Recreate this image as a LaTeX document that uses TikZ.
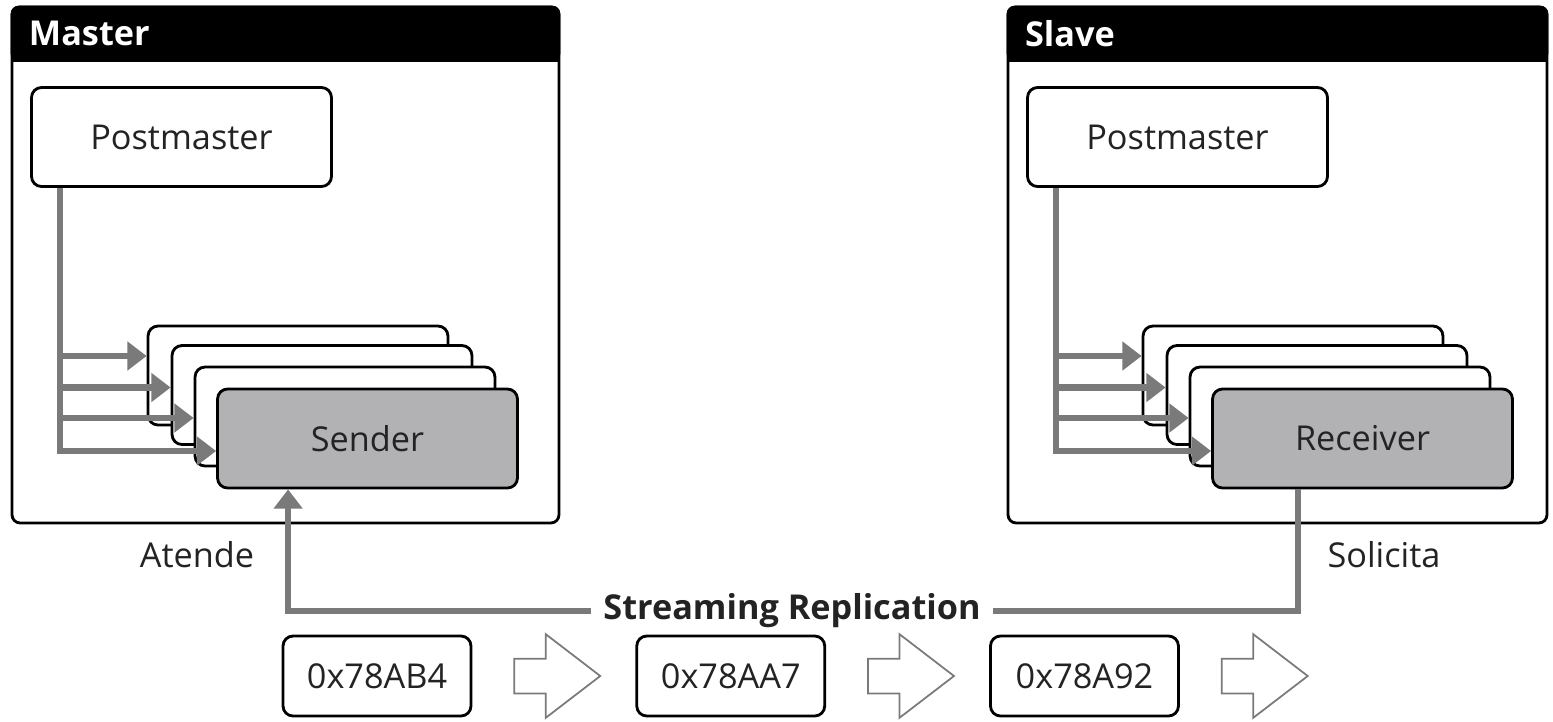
\documentclass[tikz,border=0pt]{standalone}
\usepackage{fontspec}
\setmainfont{Open Sans}
\usepackage{tikz}
\usetikzlibrary{shapes.arrows, arrows.meta, positioning}
\definecolor{wiregray}{RGB}{122,122,122}
\definecolor{procgray}{RGB}{178,178,181}
\definecolor{textgray}{RGB}{35,35,35}
\newcommand{\diagfont}{\fontsize{19.5}{23}\selectfont}
\tikzstyle{server} = [rectangle, rounded corners=0.16cm, minimum height=10.32cm, draw=black, fill=white, line width=1.6pt, inner sep=0pt]
\tikzstyle{header} = [anchor=west, text=white, font=\diagfont\bfseries, inner sep=0pt]
\tikzstyle{process} = [rectangle, rounded corners=0.2cm, minimum width=6cm, minimum height=1.98cm, text centered, draw=black, fill=white, line width=1.6pt, font=\diagfont, text=textgray]
\tikzstyle{active} = [process, fill=procgray]
\tikzstyle{lsn} = [rectangle, rounded corners=0.2cm, minimum width=3.76cm, minimum height=1.6cm, text centered, draw=black, fill=white, line width=1.6pt, font=\diagfont, text=textgray]
\tikzstyle{flow} = [single arrow, draw=wiregray, line width=1pt, fill=white, minimum height=1.72cm, inner xsep=0pt, inner ysep=0.33cm, single arrow head extend=0.49cm, single arrow tip angle=75]
\tikzstyle{sidenote} = [font=\diagfont, text=textgray]
\tikzstyle{wire} = [draw=wiregray, line width=3.6pt]
\tikzstyle{arrow} = [wire, -{Triangle[length=11pt,width=16pt]}]

\begin{document}
\begin{tikzpicture}[x=0.02cm, y=-0.02cm]
        \useasboundingbox (0,0) rectangle (1553,721);

        \node (master) [server, minimum width=10.94cm] at (285.5,265) {};
        \node (slave) [server, minimum width=10.78cm] at (1277.5,265) {};
        \fill [black, rounded corners=0.16cm] (master.north west) rectangle ([yshift=-1.12cm]master.north east);
        \fill [black] ([yshift=-0.5cm]master.north west) rectangle ([yshift=-1.12cm]master.north east);
        \fill [black, rounded corners=0.16cm] (slave.north west) rectangle ([yshift=-1.12cm]slave.north east);
        \fill [black] ([yshift=-0.5cm]slave.north west) rectangle ([yshift=-1.12cm]slave.north east);
        \node (mastertitle) [header] at ([xshift=0.36cm, yshift=-0.56cm]master.north west) {Master};
        \node (slavetitle) [header] at ([xshift=0.36cm, yshift=-0.56cm]slave.north west) {Slave};

        \node (mpm) [process] at (181.5,137) {Postmaster};
        \node (msend1) [process] at (298,375.5) {};
        \node (msend2) [process] at (322,395) {};
        \node (msend3) [process] at (345,416.5) {};
        \node (sender) [active] at (367.5,438.5) {Sender};

        \node (spm) [process] at (1177.5,137) {Postmaster};
        \node (srecv1) [process] at (1293,375.5) {};
        \node (srecv2) [process] at (1317,395) {};
        \node (srecv3) [process] at (1340,416.5) {};
        \node (receiver) [active] at (1362.5,438.5) {Receiver};

        \node (stream) [font=\diagfont\bfseries, text=textgray, inner xsep=0.24cm] at (792,611) {Streaming Replication};
        \node (atende) [sidenote] at (197,555) {Atende};
        \node (solicita) [sidenote] at (1384,555) {Solicita};

        \node (lsn1) [lsn] at (377,676) {0x78AB4};
        \node (lsn2) [lsn, right=3.26cm of lsn1] {0x78AA7};
        \node (lsn3) [lsn, right=3.26cm of lsn2] {0x78A92};
        \node (flow1) [flow, right=0.82cm of lsn1] {};
        \node (flow2) [flow, right=0.82cm of lsn2] {};
        \node (flow3) [flow, right=0.82cm of lsn3] {};

        \draw [arrow] ([xshift=0.6cm]mpm.south west) |- ([yshift=0.39cm]msend1.west);
        \draw [arrow] ([xshift=0.6cm]mpm.south west) |- ([yshift=0.15cm]msend2.west);
        \draw [arrow] ([xshift=0.6cm]mpm.south west) |- ([yshift=-0.03cm]msend3.west);
        \draw [arrow] ([xshift=0.6cm]mpm.south west) |- ([yshift=-0.25cm]sender.west);

        \draw [arrow] ([xshift=0.6cm]spm.south west) |- ([yshift=0.39cm]srecv1.west);
        \draw [arrow] ([xshift=0.6cm]spm.south west) |- ([yshift=0.15cm]srecv2.west);
        \draw [arrow] ([xshift=0.6cm]spm.south west) |- ([yshift=-0.03cm]srecv3.west);
        \draw [arrow] ([xshift=0.6cm]spm.south west) |- ([yshift=-0.25cm]receiver.west);

        \draw [arrow] (stream.west) -| ([xshift=1.44cm]sender.south west);
        \draw [wire] (stream.east) -| ([xshift=1.74cm]receiver.south west);

    \end{tikzpicture}
\end{document}
